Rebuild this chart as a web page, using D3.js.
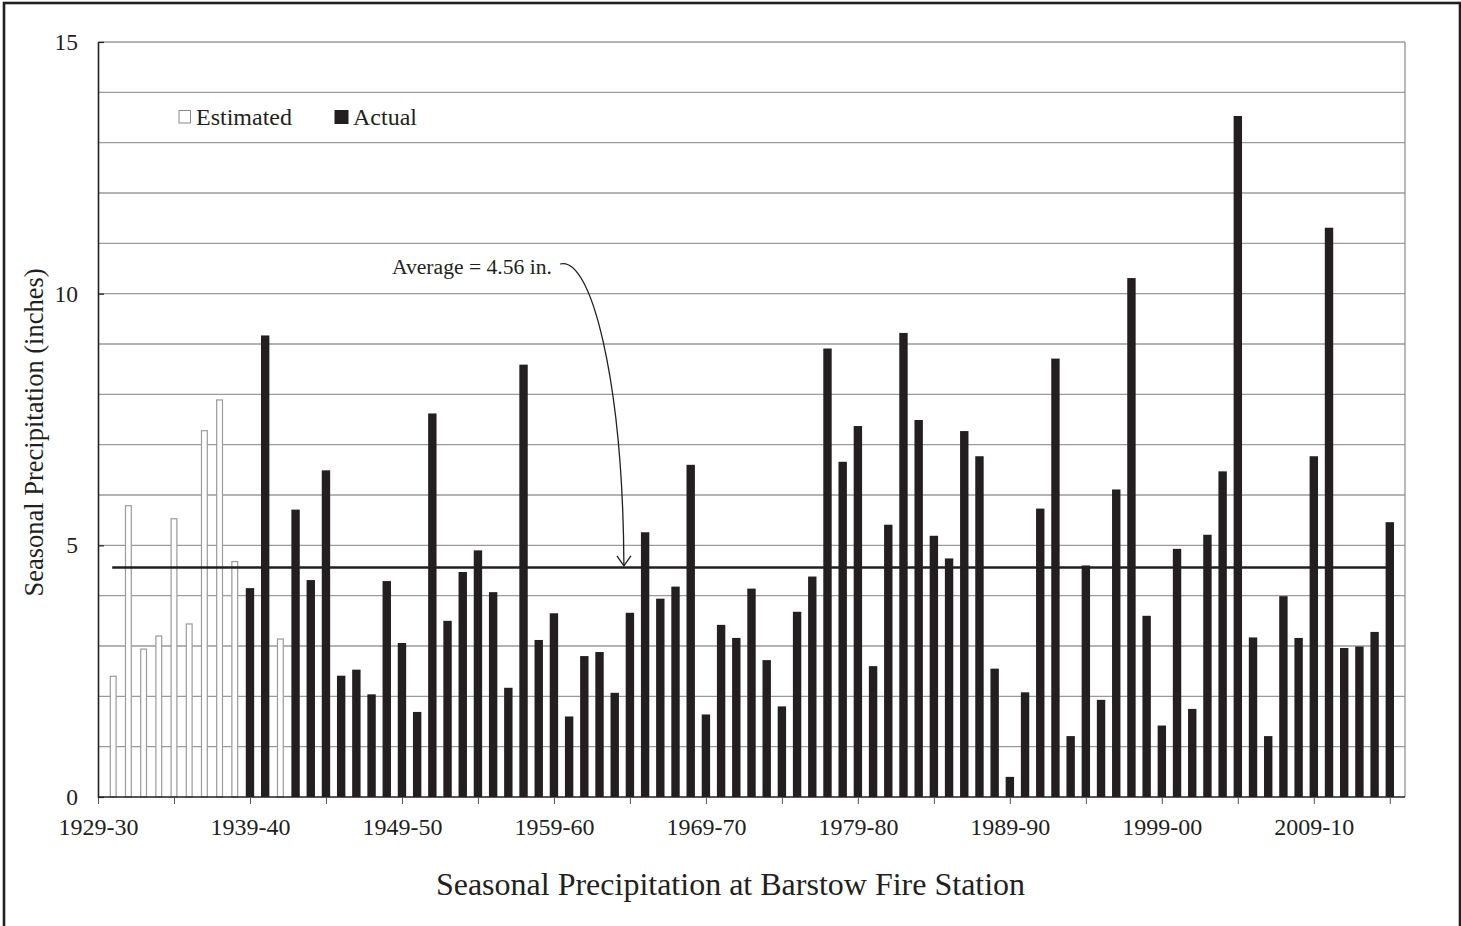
<!DOCTYPE html>
<html>
<head>
<meta charset="utf-8">
<script src="https://cdn.jsdelivr.net/npm/d3@7/dist/d3.min.js"></script>
<style>
  html, body { margin: 0; padding: 0; background: #fff; }
  svg { display: block; }
  text { font-family: "Liberation Serif", "Times New Roman", serif; fill: #231f20; }
</style>
</head>
<body>
<svg id="chart" width="1461" height="926"></svg>
<script>
// ---- Data ----
const seasons = [
  "1929-30","1930-31","1931-32","1932-33","1933-34","1934-35","1935-36","1936-37","1937-38","1938-39",
  "1939-40","1940-41","1941-42","1942-43","1943-44","1944-45","1945-46","1946-47","1947-48","1948-49",
  "1949-50","1950-51","1951-52","1952-53","1953-54","1954-55","1955-56","1956-57","1957-58","1958-59",
  "1959-60","1960-61","1961-62","1962-63","1963-64","1964-65","1965-66","1966-67","1967-68","1968-69",
  "1969-70","1970-71","1971-72","1972-73","1973-74","1974-75","1975-76","1976-77","1977-78","1978-79",
  "1979-80","1980-81","1981-82","1982-83","1983-84","1984-85","1985-86","1986-87","1987-88","1988-89",
  "1989-90","1990-91","1991-92","1992-93","1993-94","1994-95","1995-96","1996-97","1997-98","1998-99",
  "1999-00","2000-01","2001-02","2002-03","2003-04","2004-05","2005-06","2006-07","2007-08","2008-09",
  "2009-10","2010-11","2011-12","2012-13","2013-14","2014-15"
];
// Seasonal precipitation (inches), one entry per season above
const precipitation = [
  null, 2.41, 5.80, 2.95, 3.21, 5.54, 3.45, 7.29, 7.90, 4.69,
  4.15, 9.17, 3.15, 5.71, 4.31, 6.49, 2.41, 2.53, 2.04, 4.29,
  3.06, 1.69, 7.62, 3.50, 4.47, 4.90, 4.07, 2.17, 8.59, 3.12,
  3.65, 1.60, 2.80, 2.88, 2.07, 3.66, 5.26, 3.94, 4.18, 6.60,
  1.64, 3.42, 3.16, 4.14, 2.72, 1.80, 3.68, 4.38, 8.91, 6.66,
  7.37, 2.60, 5.41, 9.22, 7.49, 5.19, 4.74, 7.27, 6.77, 2.55,
  0.40, 2.08, 5.73, 8.71, 1.21, 4.60, 1.93, 6.11, 10.31, 3.60,
  1.42, 4.93, 1.75, 5.21, 6.47, 13.53, 3.17, 1.21, 3.99, 3.16,
  6.77, 11.31, 2.96, 2.99, 3.28, 5.46
];
// Seasons whose values are estimated (rest are actual)
const estimatedSeasons = [
  "1930-31","1931-32","1932-33","1933-34","1934-35","1935-36","1936-37","1937-38","1938-39","1941-42"
];
const averageValue = 4.56;
const yTicks = [0, 5, 10, 15];
const xLabelSeasons = ["1929-30","1939-40","1949-50","1959-60","1969-70","1979-80","1989-90","1999-00","2009-10"];
const legendItems = ["Estimated", "Actual"];
const chartTitle = "Seasonal Precipitation at Barstow Fire Station";
const yTitle = "Seasonal Precipitation (inches)";
const annotationText = "Average = 4.56 in.";

// ---- Layout ----
const W = 1461, H = 926;
const plot = { left: 98, right: 1405, top: 42, bottom: 797 };
const step = (plot.right - plot.left) / seasons.length;
const ink = "#231f20";
const serif = "'Liberation Serif', 'Times New Roman', serif";

const svg = d3.select("#chart");

// outer frame
svg.append("rect")
  .attr("x", 4).attr("y", 3).attr("width", 1456).attr("height", 940)
  .attr("fill", "none").attr("stroke", ink).attr("stroke-width", 2.6);

const x = d3.scalePoint().domain(seasons).range([plot.left, plot.right - step]).padding(0);
const y = d3.scaleLinear().domain([0, 15]).range([plot.bottom, plot.top]);

// gridlines every inch
const grid = d3.range(1, 16);
svg.append("g").selectAll("line").data(grid).join("line")
  .attr("x1", plot.left).attr("x2", plot.right)
  .attr("y1", d => y(d)).attr("y2", d => y(d))
  .attr("stroke", "#9a9a9a").attr("stroke-width", 1.4);

// right border of plot
svg.append("line")
  .attr("x1", plot.right).attr("x2", plot.right)
  .attr("y1", plot.top).attr("y2", plot.bottom)
  .attr("stroke", "#8a8a8a").attr("stroke-width", 1.2);

// bars
const data = seasons.map((s, i) => ({ season: s, value: precipitation[i], est: estimatedSeasons.includes(s) }))
  .filter(d => d.value !== null);

const barsG = svg.append("g");
barsG.selectAll("rect.act").data(data.filter(d => !d.est)).join("rect")
  .attr("class", "act")
  .attr("x", d => x(d.season) - 4.2)
  .attr("width", 8.4)
  .attr("y", d => y(d.value))
  .attr("height", d => y(0) - y(d.value))
  .attr("fill", ink);

barsG.selectAll("rect.est").data(data.filter(d => d.est)).join("rect")
  .attr("class", "est")
  .attr("x", d => x(d.season) - 2.9)
  .attr("width", 5.8)
  .attr("y", d => y(d.value) + 0.6)
  .attr("height", d => y(0) - y(d.value) - 0.6)
  .attr("fill", "#fff")
  .attr("stroke", "#9a9a9a")
  .attr("stroke-width", 1.2);

// average line
svg.append("line")
  .attr("x1", x(seasons[1]) - 1).attr("x2", x(seasons[seasons.length - 1]) - 3)
  .attr("y1", y(averageValue)).attr("y2", y(averageValue))
  .attr("stroke", ink).attr("stroke-width", 2.6);

// axes
const xAxis = d3.axisBottom(x)
  .tickValues(seasons.filter((s, i) => i % 5 === 0))
  .tickSize(7)
  .tickFormat(d => xLabelSeasons.includes(d) ? d : "");
const gx = svg.append("g").attr("transform", `translate(0,${plot.bottom})`).call(xAxis);
gx.attr("font-family", serif);
gx.select(".domain").attr("d", `M${plot.left},0H${plot.right}`).attr("stroke", ink).attr("stroke-width", 1.6);
gx.selectAll(".tick line").attr("stroke", "#555").attr("stroke-width", 1);
gx.selectAll(".tick text").attr("font-size", 24).attr("dy", 0).attr("y", 38)
  .style("font-family", serif).attr("fill", ink);

const yAxis = d3.axisLeft(y).tickValues(yTicks).tickSize(0).tickPadding(20);
const gy = svg.append("g").attr("transform", `translate(${plot.left},0)`).call(yAxis);
gy.attr("font-family", serif);
gy.select(".domain").attr("stroke", ink).attr("stroke-width", 1.6);
gy.selectAll(".tick text").attr("font-size", 23.5).attr("dy", "0.32em")
  .style("font-family", serif).attr("fill", ink);
gy.selectAll(".tick").append("line")
  .attr("x1", 0).attr("x2", 6).attr("stroke", ink).attr("stroke-width", 1.2);

// y title
svg.append("text")
  .attr("transform", `translate(43,432.5) rotate(-90)`)
  .attr("text-anchor", "middle")
  .attr("font-size", 26.5)
  .text(yTitle);

// chart title
svg.append("text")
  .attr("x", W / 2).attr("y", 895)
  .attr("text-anchor", "middle")
  .attr("font-size", 32)
  .text(chartTitle);

// legend
const lg = svg.append("g");
lg.append("rect").attr("x", 179).attr("y", 110.5).attr("width", 11.5).attr("height", 12.5)
  .attr("fill", "#fff").attr("stroke", "#8a8a8a").attr("stroke-width", 1);
lg.append("text").attr("x", 196).attr("y", 125).attr("font-size", 24).text(legendItems[0]);
lg.append("rect").attr("x", 334.5).attr("y", 110).attr("width", 14).attr("height", 14)
  .attr("fill", ink);
lg.append("text").attr("x", 353).attr("y", 125).attr("font-size", 24).text(legendItems[1]);

// annotation
svg.append("text").attr("x", 392).attr("y", 274).attr("font-size", 21.6).text(annotationText);
const tipX = x(seasons[35]) - 6, tipY = y(averageValue) - 1.5;
const startX = 560, startY = 264;
svg.append("path")
  .attr("d", `M${startX},${startY} C${startX + 31},${startY - 9} ${tipX - 1},${startY + 116} ${tipX},${tipY}`)
  .attr("fill", "none").attr("stroke", ink).attr("stroke-width", 1.3);
svg.append("path")
  .attr("d", `M${tipX - 7},${tipY - 10} L${tipX},${tipY} L${tipX + 7},${tipY - 10}`)
  .attr("fill", "none").attr("stroke", ink).attr("stroke-width", 1.3);
</script>
</body>
</html>
